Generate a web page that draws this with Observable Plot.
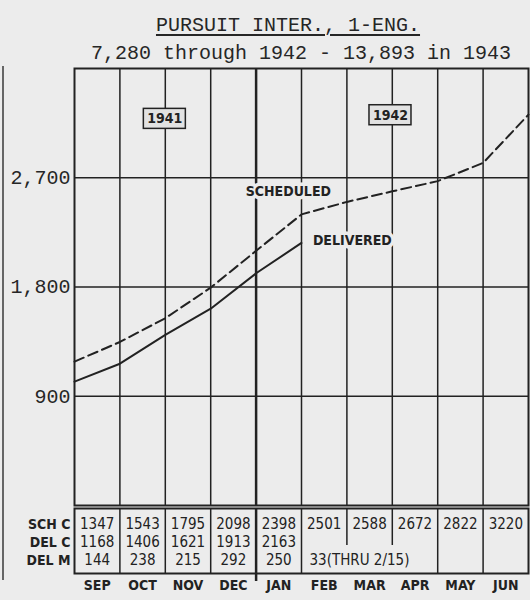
<!DOCTYPE html>
<html><head><meta charset="utf-8">
<script src="https://cdn.jsdelivr.net/npm/d3@7"></script>
<script src="https://cdn.jsdelivr.net/npm/@observablehq/plot@0.6"></script>
<style>
html,body{margin:0;padding:0;background:#ececec;width:530px;height:600px;overflow:hidden;}
#wrap{position:relative;width:530px;height:600px;}
.typed{position:absolute;font-family:"Liberation Mono","DejaVu Sans Mono",monospace;font-size:20px;line-height:20px;color:#262626;white-space:nowrap;transform:translateX(-50%);}
#title{top:16px;left:288px;text-decoration:underline;text-underline-offset:3px;text-decoration-thickness:1.5px;}
#subtitle{top:44px;left:301px;}
#chart{position:absolute;left:0;top:66px;}
#table{position:absolute;left:0;top:507px;}
#edge{position:absolute;left:2px;top:66px;width:2px;height:514px;background:#666;}
</style></head>
<body>
<div id="wrap">
  <div id="edge"></div>
  <div id="title" class="typed">PURSUIT INTER., 1-ENG.</div>
  <div id="subtitle" class="typed">7,280 through 1942 - 13,893 in 1943</div>
  <div id="chart"></div>
  <div id="table"></div>
</div>
<script>
// ---- data ----
const months = ["SEP","OCT","NOV","DEC","JAN","FEB","MAR","APR","MAY","JUN"];
const schCum = [1347,1543,1795,2098,2398,2501,2588,2672,2822,3220];
const delCum = [1168,1406,1621,1913,2163];
const delMonthly = [144,238,215,292,250];
const schStart = 1185;   // cumulative at start of SEP
const delStart = 1020;
const yTicks = [900,1800,2700];
const yMax = 3600;
const rows = ["SCH C","DEL C","DEL M"];
const delMNote = {month:"FEB", text:"33(THRU 2/15)"};
const noteSpan = ["FEB","MAR","APR"];
const yearBreak = "JAN";
const lineLabels = [{label:"SCHEDULED", i:4.71, v:2590},{label:"DELIVERED", i:6.12, v:2185}];
const yearLabels = [{label:"1941", i:1.99, v:3185},{label:"1942", i:6.96, v:3215}];

// ---- styles ----
const C = "#222";
const BG = "#ececec";
const COND = "'DejaVu Sans Condensed','Liberation Sans Narrow','DejaVu Sans',sans-serif";
const MONO = "'Liberation Mono','DejaVu Sans Mono',monospace";

const n = months.length;
const schedPts = [{i:0, v:schStart}, ...schCum.map((v,k)=>({i:k+1, v}))];
const delPts = [{i:0, v:delStart}, ...delCum.map((v,k)=>({i:k+1, v}))];
const yearIdx = months.indexOf(yearBreak);
const inner = d3.range(1, n);

const chart = Plot.plot({
  width: 530, height: 441,
  marginTop: 2, marginBottom: 2, marginLeft: 74, marginRight: 2,
  x: {domain: [0, n], axis: null},
  y: {domain: [0, yMax], ticks: yTicks, tickSize: 0, tickPadding: 4, tickFormat: d3.format(","), label: null},
  style: {background: "transparent", fontFamily: MONO, fontSize: "20px", color: "#262626", overflow: "visible"},
  marks: [
    Plot.ruleX(inner.filter(d => d !== yearIdx), {stroke: C, strokeWidth: 1.5}),
    Plot.ruleX([yearIdx], {stroke: C, strokeWidth: 2.5}),
    Plot.ruleY(yTicks, {stroke: C, strokeWidth: 1.5}),
    Plot.frame({stroke: C, strokeWidth: 2}),
    Plot.text(lineLabels, {x: "i", y: "v", text: "label", fontFamily: COND, fontSize: 14, fontWeight: "bold", fill: C, stroke: BG, strokeWidth: 7, paintOrder: "stroke"}),
    Plot.rect(yearLabels, {x1: "i", x2: "i", y1: "v", y2: "v", insetLeft: -21, insetRight: -21, insetTop: -10, insetBottom: -10, fill: "#e2e2e2", stroke: C, strokeWidth: 1.5}),
    Plot.text(yearLabels, {x: "i", y: "v", text: "label", fontFamily: COND, fontSize: 14, fontWeight: "bold", fill: C}),
    Plot.line(schedPts, {x: "i", y: "v", stroke: C, strokeWidth: 2, strokeDasharray: "10,5"}),
    Plot.line(delPts, {x: "i", y: "v", stroke: C, strokeWidth: 2})
  ]
});
document.getElementById("chart").append(chart);

const cells = [
  ...schCum.map((v,k) => ({i: k, row: rows[0], t: String(v)})),
  ...delCum.map((v,k) => ({i: k, row: rows[1], t: String(v)})),
  ...delMonthly.map((v,k) => ({i: k, row: rows[2], t: String(v)}))
];
const spanIdx = noteSpan.map(m => months.indexOf(m));
const partial = inner.filter(d => spanIdx.includes(d) && spanIdx.includes(d - 1));
const full = inner.filter(d => !partial.includes(d) && d !== yearIdx);

const table = Plot.plot({
  width: 530, height: 93,
  marginTop: 1, marginBottom: 27, marginLeft: 74, marginRight: 2,
  x: {domain: [0, n], ticks: months.map((m,k) => k + 0.5), tickFormat: d => months[Math.floor(d)], tickSize: 0, tickPadding: 7, label: null},
  y: {type: "point", domain: rows, range: [17, 53], padding: 0, tickSize: 0, tickPadding: 4, label: null},
  style: {background: "transparent", fontFamily: COND, fontSize: "14px", fontWeight: "bold", color: C, overflow: "visible"},
  marks: [
    Plot.frame({stroke: C, strokeWidth: 2}),
    Plot.ruleX(full, {stroke: C, strokeWidth: 1.5}),
    Plot.ruleX([yearIdx], {stroke: C, strokeWidth: 2.5, insetBottom: -8}),
    Plot.ruleX(partial, {y1: () => rows[0], y2: () => rows[1], insetTop: -16, insetBottom: -3, stroke: C, strokeWidth: 1.5}),
    Plot.text(cells, {x: d => d.i + 0.5, y: "row", text: "t", fontSize: 15, fontWeight: "normal", fill: C}),
    Plot.text([delMNote], {x: d => months.indexOf(d.month), y: () => rows[2], text: "text", textAnchor: "start", dx: 8, fontSize: 15, fontWeight: "normal", fill: C})
  ]
});
document.getElementById("table").append(table);
</script>
</body></html>
